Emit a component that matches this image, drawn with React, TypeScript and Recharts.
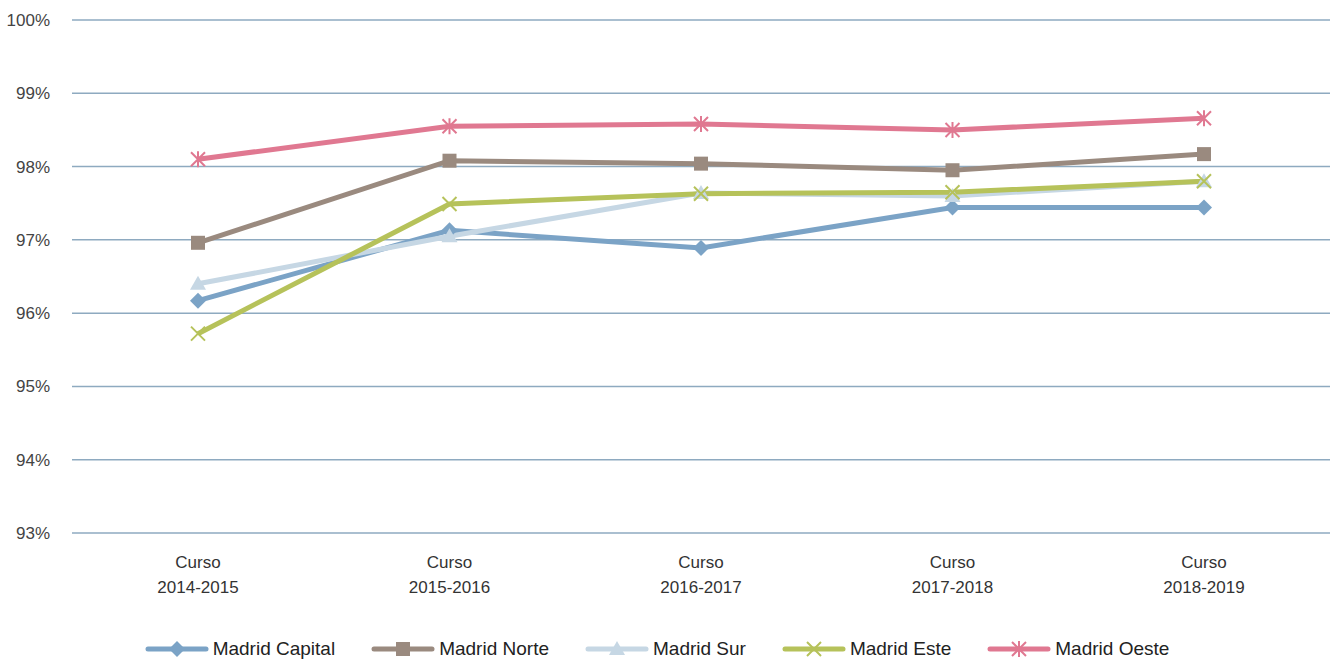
import React from 'react';
import { LineChart, Line, XAxis, YAxis, CartesianGrid, Legend } from 'recharts';

const cursos = ['Curso 2014-2015', 'Curso 2015-2016', 'Curso 2016-2017', 'Curso 2017-2018', 'Curso 2018-2019'];
const madridCapital = [96.17, 97.13, 96.89, 97.44, 97.44];
const madridNorte = [96.96, 98.08, 98.04, 97.95, 98.17];
const madridSur = [96.4, 97.05, 97.64, 97.6, 97.8];
const madridEste = [95.72, 97.49, 97.63, 97.65, 97.8];
const madridOeste = [98.1, 98.55, 98.58, 98.5, 98.66];
const yTicks = [93, 94, 95, 96, 97, 98, 99, 100];

const data = cursos.map((name, i) => ({
  name,
  capital: madridCapital[i],
  norte: madridNorte[i],
  sur: madridSur[i],
  este: madridEste[i],
  oeste: madridOeste[i],
}));

const FONT = '"Liberation Sans Narrow", "Liberation Sans", Arial, sans-serif';

type Shape = 'diamond' | 'square' | 'triangle' | 'x' | 'star';

const series: { key: string; label: string; color: string; shape: Shape }[] = [
  { key: 'capital', label: 'Madrid Capital', color: '#7ba3c6', shape: 'diamond' },
  { key: 'norte', label: 'Madrid Norte', color: '#9a8a7f', shape: 'square' },
  { key: 'sur', label: 'Madrid Sur', color: '#c6d7e4', shape: 'triangle' },
  { key: 'este', label: 'Madrid Este', color: '#b6c25a', shape: 'x' },
  { key: 'oeste', label: 'Madrid Oeste', color: '#e07891', shape: 'star' },
];

const Marker = ({ cx, cy, shape, color }: { cx: number; cy: number; shape: Shape; color: string }) => {
  const s = 8;
  switch (shape) {
    case 'diamond':
      return <path d={`M${cx},${cy - s} L${cx + s},${cy} L${cx},${cy + s} L${cx - s},${cy} Z`} fill={color} />;
    case 'square':
      return <rect x={cx - 7} y={cy - 7} width={14} height={14} fill={color} />;
    case 'triangle':
      return <path d={`M${cx},${cy - 8} L${cx + 8},${cy + 6} L${cx - 8},${cy + 6} Z`} fill={color} />;
    case 'x':
      return (
        <path d={`M${cx - 7},${cy - 7} L${cx + 7},${cy + 7} M${cx + 7},${cy - 7} L${cx - 7},${cy + 7}`} stroke={color} strokeWidth={2} />
      );
    case 'star':
      return (
        <path
          d={`M${cx - 7},${cy - 7} L${cx + 7},${cy + 7} M${cx + 7},${cy - 7} L${cx - 7},${cy + 7} M${cx},${cy - 8} L${cx},${cy + 8}`}
          stroke={color}
          strokeWidth={2}
        />
      );
  }
  return null;
};

const CursoTick = (props: any) => {
  const { x, y, payload } = props;
  const [first, second] = String(payload.value).split(' ');
  return (
    <text x={x} y={y} textAnchor="middle" fill="#333" fontSize={17} fontFamily={FONT}>
      <tspan x={x} dy={27}>{first}</tspan>
      <tspan x={x} dy={25}>{second}</tspan>
    </text>
  );
};

const LegendContent = () => (
  <div
    style={{
      display: 'flex',
      justifyContent: 'center',
      alignItems: 'center',
      height: 40,
      paddingTop: 14,
      boxSizing: 'border-box',
      paddingLeft: 20,
    }}
  >
    {series.map((s) => (
      <div key={s.key} style={{ display: 'flex', alignItems: 'center', marginRight: 36 }}>
        <svg width={64} height={20}>
          <line x1={3} y1={10} x2={61} y2={10} stroke={s.color} strokeWidth={5} strokeLinecap="round" />
          <Marker cx={32} cy={10} shape={s.shape} color={s.color} />
        </svg>
        <span style={{ fontFamily: FONT, fontSize: 19, color: '#222', marginLeft: 4 }}>{s.label}</span>
      </div>
    ))}
  </div>
);

export default function App() {
  return (
    <div style={{ position: 'absolute', left: 0, top: 0, background: '#fff' }}>
      <LineChart width={1338} height={662} data={data} margin={{ top: 20, right: 8, bottom: 0, left: 0 }}>
        <CartesianGrid vertical={false} stroke="#8eaac0" strokeWidth={1.5} />
        <XAxis
          dataKey="name"
          axisLine={false}
          tickLine={false}
          height={89}
          tick={<CursoTick />}
          interval={0}
          padding={{ left: 126, right: 126 }}
        />
        <YAxis
          domain={[93, 100]}
          ticks={yTicks}
          width={72}
          axisLine={false}
          tickLine={false}
          tickFormatter={(v: number) => `${v}%`}
          tick={{ fill: '#444', fontSize: 17, fontFamily: FONT }}
          tickMargin={16}
        />
        <Legend verticalAlign="bottom" content={<LegendContent />} />
        {series.map((s) => (
          <Line
            key={s.key}
            dataKey={s.key}
            name={s.label}
            stroke={s.color}
            strokeWidth={5}
            isAnimationActive={false}
            dot={(p: any) => <Marker key={`${s.key}-${p.index}`} cx={p.cx} cy={p.cy} shape={s.shape} color={s.color} />}
            activeDot={false}
          />
        ))}
      </LineChart>
    </div>
  );
}
